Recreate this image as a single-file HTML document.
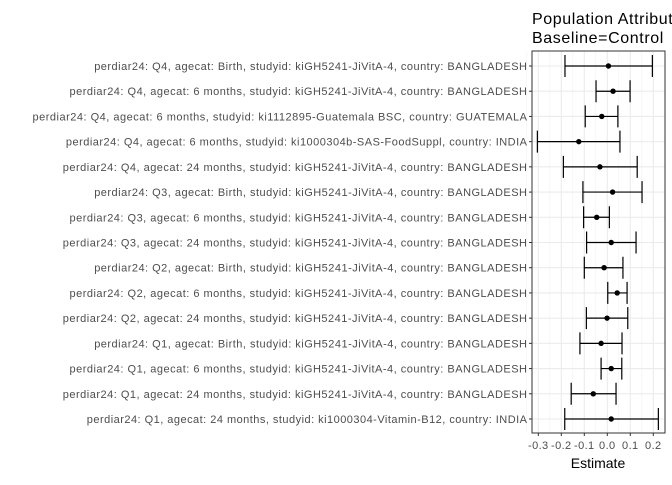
<!DOCTYPE html>
<html><head><meta charset="utf-8"><style>
body{margin:0;background:#fff;}
svg text{font-family:"Liberation Sans",sans-serif;}
</style></head><body>
<svg id="chart" width="672" height="480" viewBox="0 0 672 480" xmlns="http://www.w3.org/2000/svg">
<rect width="672" height="480" fill="#fff"/>
<text x="532" y="24" font-size="16" letter-spacing="0.6" fill="#000">Population Attributable Fraction</text>
<text x="532" y="43" font-size="16" letter-spacing="0.6" fill="#000">Baseline=Control</text>
<g id="grid"></g>
<g id="marks"></g>
<g id="labels"></g>
<rect x="532" y="51" width="133" height="382" fill="none" stroke="#333" stroke-width="1"/>
<text x="598" y="468" font-size="14" text-anchor="middle" fill="#000">Estimate</text>
</svg>
<script>
const categories = [
"perdiar24: Q4, agecat: Birth, studyid: kiGH5241-JiVitA-4, country: BANGLADESH",
"perdiar24: Q4, agecat: 6 months, studyid: kiGH5241-JiVitA-4, country: BANGLADESH",
"perdiar24: Q4, agecat: 6 months, studyid: ki1112895-Guatemala BSC, country: GUATEMALA",
"perdiar24: Q4, agecat: 6 months, studyid: ki1000304b-SAS-FoodSuppl, country: INDIA",
"perdiar24: Q4, agecat: 24 months, studyid: kiGH5241-JiVitA-4, country: BANGLADESH",
"perdiar24: Q3, agecat: Birth, studyid: kiGH5241-JiVitA-4, country: BANGLADESH",
"perdiar24: Q3, agecat: 6 months, studyid: kiGH5241-JiVitA-4, country: BANGLADESH",
"perdiar24: Q3, agecat: 24 months, studyid: kiGH5241-JiVitA-4, country: BANGLADESH",
"perdiar24: Q2, agecat: Birth, studyid: kiGH5241-JiVitA-4, country: BANGLADESH",
"perdiar24: Q2, agecat: 6 months, studyid: kiGH5241-JiVitA-4, country: BANGLADESH",
"perdiar24: Q2, agecat: 24 months, studyid: kiGH5241-JiVitA-4, country: BANGLADESH",
"perdiar24: Q1, agecat: Birth, studyid: kiGH5241-JiVitA-4, country: BANGLADESH",
"perdiar24: Q1, agecat: 6 months, studyid: kiGH5241-JiVitA-4, country: BANGLADESH",
"perdiar24: Q1, agecat: 24 months, studyid: kiGH5241-JiVitA-4, country: BANGLADESH",
"perdiar24: Q1, agecat: 24 months, studyid: ki1000304-Vitamin-B12, country: INDIA"
];
const estimates = [0.005,0.025,-0.024,-0.124,-0.032,0.023,-0.046,0.017,-0.014,0.043,-0.001,-0.027,0.017,-0.061,0.017];
const lowerCI = [-0.184,-0.049,-0.096,-0.304,-0.191,-0.106,-0.103,-0.09,-0.1,0.002,-0.091,-0.119,-0.027,-0.157,-0.185];
const upperCI = [0.196,0.099,0.046,0.055,0.13,0.151,0.009,0.125,0.068,0.086,0.089,0.064,0.063,0.038,0.222];
const xTicks = [-0.3,-0.2,-0.1,0.0,0.1,0.2];
const xTickLabels = ["-0.3","-0.2","-0.1","0.0","0.1","0.2"];

const NS="http://www.w3.org/2000/svg";
const x = v => 607.3 + 230*v;
const y = i => 66 + i*(419-66)/(categories.length-1);
const grid=document.getElementById('grid'), marks=document.getElementById('marks'), labels=document.getElementById('labels');
function mk(tag, attrs, parent){const e=document.createElementNS(NS,tag);for(const k in attrs)e.setAttribute(k,attrs[k]);parent.appendChild(e);return e;}
for(let k=0;k<xTicks.length+1;k++){
  const v=xTicks[0]-0.05+k*0.1;
  const l=mk('line',{x1:x(v),x2:x(v),y1:51,y2:433,stroke:'#f2f2f2','stroke-width':0.6},grid);
  
  
}
xTicks.forEach((v,k)=>{
  const l=mk('line',{x1:x(v),x2:x(v),y1:51,y2:433,stroke:'#ebebeb','stroke-width':1.1},grid);
  
  
  const t=mk('line',{x1:x(v),x2:x(v),y1:433,y2:436,stroke:'#333','stroke-width':1},labels);
  
  
  const tx=mk('text',{x:x(v),y:449,'font-size':11,'text-anchor':'middle',fill:'#4d4d4d','letter-spacing':0.4},labels);
  tx.textContent=xTickLabels[k];
  
  
});
categories.forEach((c,i)=>{
  const yy=y(i);
  const g=mk('line',{x1:532,x2:665,y1:yy,y2:yy,stroke:'#ebebeb','stroke-width':1.1},grid);
  
  
  const tk=mk('line',{x1:529,x2:532,y1:yy,y2:yy,stroke:'#333','stroke-width':1},labels);
  
  
  const t=mk('text',{x:527,y:yy+4,'font-size':11,'text-anchor':'end',fill:'#4d4d4d'},labels);
  t.textContent=c;
  
  
  const len=t.getComputedTextLength();
  t.setAttribute('textLength',(len*1.093).toFixed(1));
  t.setAttribute('lengthAdjust','spacing');
  const eb=mk('path',{d:`M${x(lowerCI[i])},${yy-11}V${yy+11}M${x(lowerCI[i])},${yy}H${x(upperCI[i])}M${x(upperCI[i])},${yy-11}V${yy+11}`,stroke:'#000','stroke-width':1.2,fill:'none'},marks);
  
  
  const p=mk('circle',{cx:x(estimates[i]),cy:yy,r:2.7,fill:'#000'},marks);
  
  
});
</script>
</body></html>
